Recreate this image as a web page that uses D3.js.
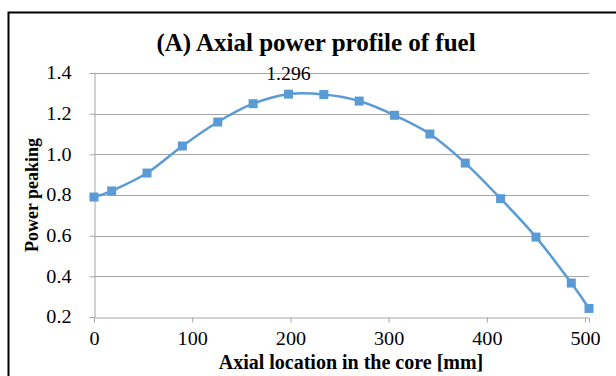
<!DOCTYPE html>
<html>
<head>
<meta charset="utf-8">
<script src="https://cdn.jsdelivr.net/npm/d3@7"></script>
<style>
  html, body { margin: 0; padding: 0; background: #fff; }
  svg { display: block; }
</style>
</head>
<body>
<div id="chart"></div>
<script>
// Axial locations along the core (mm) and relative power peaking
const axialLocation = [0, 18, 54, 90, 126, 162, 198, 234, 270, 306, 342, 378, 414, 450, 486, 504];
const powerPeaking = [0.790, 0.820, 0.908, 1.041, 1.159, 1.249, 1.296, 1.294, 1.262, 1.192, 1.100, 0.957, 0.782, 0.593, 0.367, 0.242];
const xTicks = [0, 100, 200, 300, 400, 500];
const yTicks = [0.2, 0.4, 0.6, 0.8, 1.0, 1.2, 1.4];
const peakLabel = "1.296";
const peakIndex = 6;

const W = 616, H = 376;
const plot = { left: 94, right: 589, top: 73, bottom: 317 };
const serif = "'Liberation Serif', 'Times New Roman', serif";
const blue = "#5b9bd5";
const grid = "#a6a6a6";

// widen a text element slightly, keeping its anchor
function widen(sel, k) {
  sel.each(function () {
    const len = this.getComputedTextLength();
    d3.select(this).attr("textLength", len * k).attr("lengthAdjust", "spacingAndGlyphs");
  });
}

const svg = d3.select("#chart").append("svg")
  .attr("width", W).attr("height", H);

// chart frame
svg.append("rect")
  .attr("x", 8.5).attr("y", 12.5)
  .attr("width", W + 10).attr("height", H + 10)
  .attr("fill", "#fff").attr("stroke", "#000").attr("stroke-width", 2);

const x = d3.scaleLinear().domain([0, 504]).range([plot.left, plot.right]);
const y = d3.scaleLinear().domain([0.2, 1.4]).range([plot.bottom, plot.top]);

// horizontal gridlines
svg.append("g")
  .selectAll("line").data(yTicks.slice(1)).join("line")
  .attr("x1", plot.left).attr("x2", plot.right)
  .attr("y1", d => Math.round(y(d)) + 0.5).attr("y2", d => Math.round(y(d)) + 0.5)
  .attr("stroke", grid).attr("stroke-width", 1);

// y axis
const yAxis = svg.append("g")
  .attr("transform", `translate(${plot.left + 0.5},0)`)
  .call(d3.axisLeft(y).tickValues(yTicks).tickFormat(d3.format(".1f")).tickSize(5).tickPadding(18));
// x axis
const xAxis = svg.append("g")
  .attr("transform", `translate(0,${plot.bottom + 0.5})`)
  .call(d3.axisBottom(x).tickValues(xTicks).tickFormat(d3.format("d")).tickSize(5).tickPadding(10));

[yAxis, xAxis].forEach(g => {
  g.attr("font-family", serif).attr("font-size", 18);
  g.select(".domain").attr("stroke", grid).attr("stroke-width", 1);
  g.selectAll(".tick line").attr("stroke", grid);
  g.selectAll(".tick text").attr("fill", "#000").call(widen, 1.12);
});

// smoothed series line
const line = d3.line()
  .x((d, i) => x(axialLocation[i]))
  .y(d => y(d))
  .curve(d3.curveCardinal.tension(0));

svg.append("path")
  .datum(powerPeaking)
  .attr("d", line)
  .attr("fill", "none").attr("stroke", blue).attr("stroke-width", 2.5);

// square markers
const m = 9;
svg.append("g")
  .selectAll("rect").data(powerPeaking).join("rect")
  .attr("x", (d, i) => x(axialLocation[i]) - m / 2)
  .attr("y", d => y(d) - m / 2)
  .attr("width", m).attr("height", m)
  .attr("fill", blue);

// peak value label
svg.append("text")
  .attr("x", x(axialLocation[peakIndex]))
  .attr("y", y(powerPeaking[peakIndex]) - 14)
  .attr("text-anchor", "middle")
  .attr("font-family", serif).attr("font-size", 18)
  .text(peakLabel)
  .call(widen, 1.1);

// titles
svg.append("text")
  .attr("x", 316).attr("y", 51)
  .attr("text-anchor", "middle")
  .attr("font-family", serif).attr("font-size", 25).attr("font-weight", "bold")
  .text("(A) Axial power profile of fuel");

svg.append("text")
  .attr("x", 351).attr("y", 369)
  .attr("text-anchor", "middle")
  .attr("font-family", serif).attr("font-size", 20).attr("font-weight", "bold")
  .text("Axial location in the core [mm]");

svg.append("text")
  .attr("transform", "translate(38,195) rotate(-90)")
  .attr("text-anchor", "middle")
  .attr("font-family", serif).attr("font-size", 18).attr("font-weight", "bold")
  .text("Power peaking");
</script>
</body>
</html>
